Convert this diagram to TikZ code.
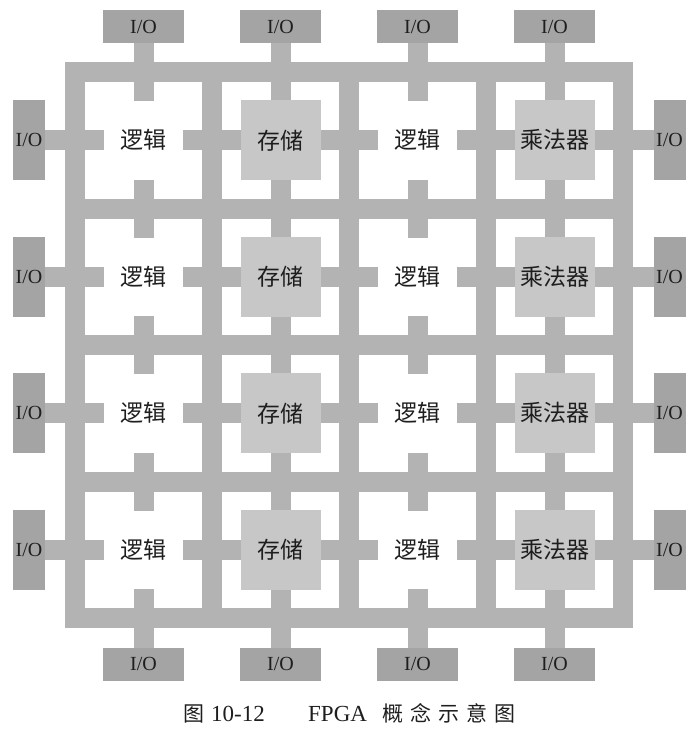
\documentclass[tikz,border=0pt]{standalone}
\usepackage{fontspec}
\setmainfont{Liberation Serif}
\newfontfamily\cjk{Noto Sans CJK SC}
\definecolor{barcol}{HTML}{B3B3B3}
\definecolor{blockcol}{HTML}{C7C7C7}
\definecolor{iocol}{HTML}{A4A4A4}
\definecolor{txtcol}{HTML}{1E1E1E}
\newcommand\capch[1]{\makebox[28pt]{#1}}
\begin{document}
\begin{tikzpicture}[x=1pt,y=-1pt,
  barfill/.style={fill=barcol,draw=none},
  blockbox/.style={fill=blockcol,draw=none,minimum width=80pt,minimum height=80pt,inner sep=0pt},
  labeltext/.style={text=txtcol,font=\cjk\fontsize{23}{23}\selectfont,inner sep=0pt},
  iobox/.style={fill=iocol,draw=none,inner sep=0pt,text=txtcol,font=\fontsize{20}{20}\selectfont},
  iohor/.style={iobox,minimum width=81pt,minimum height=33pt},
  iover/.style={iobox,minimum width=32pt,minimum height=80pt},
  captext/.style={text=txtcol,inner sep=0pt,anchor=base west}]
\useasboundingbox (0,0) rectangle (696,742);
% frame bars
\foreach \k in {0,...,4} {
  \pgfmathsetmacro\X{75+137*\k}
  \fill[barfill] (\X-10,62) rectangle (\X+10,628);
  \pgfmathsetmacro\Y{72+136.5*\k}
  \fill[barfill] (65,\Y-10) rectangle (633,\Y+10);
}
% horizontal stubs through vertical bars
\foreach \k in {0,...,4} {
  \foreach \j in {0,...,3} {
    \pgfmathsetmacro\X{75+137*\k}
    \pgfmathsetmacro\cy{140.25+136.5*\j}
    \pgfmathsetmacro\xa{\k==0 ? 44 : \X-29}
    \pgfmathsetmacro\xb{\k==4 ? 654 : \X+29}
    \fill[barfill] (\xa,\cy-10) rectangle (\xb,\cy+10);
  }
}
% vertical stubs through horizontal bars
\foreach \k in {0,...,4} {
  \foreach \i in {0,...,3} {
    \pgfmathsetmacro\Y{72+136.5*\k}
    \pgfmathsetmacro\cx{143.5+137*\i}
    \pgfmathsetmacro\ya{\k==0 ? 42 : \Y-29}
    \pgfmathsetmacro\yb{\k==4 ? 649 : \Y+29}
    \fill[barfill] (\cx-10,\ya) rectangle (\cx+10,\yb);
  }
}
% cells
\foreach \j in {0,...,3} {
  \pgfmathsetmacro\cy{140.25+136.5*\j}
  \node[labeltext] (logA\j) at (143.5,\cy) {逻辑};
  \node[blockbox] (memB\j) at (280.5,\cy) {};
  \node[labeltext] (memT\j) at (280.5,\cy) {存储};
  \node[labeltext] (logC\j) at (417.5,\cy) {逻辑};
  \node[blockbox] (mulB\j) at (554.5,\cy) {};
  \node[labeltext] (mulT\j) at (554.5,\cy) {乘法器};
  \node[iover] (ioL\j) at (29,\cy) {I/O};
  \node[iover] (ioR\j) at (669.5,\cy) {I/O};
}
\foreach \i in {0,...,3} {
  \pgfmathsetmacro\cx{143.5+137*\i}
  \node[iohor] (ioT\i) at (\cx,26.5) {I/O};
  \node[iohor] (ioB\i) at (\cx,664) {I/O};
}
% caption
\node[captext,font=\cjk\fontsize{21}{21}\selectfont] (cap1) at (180,721) {\capch{图}};
\node[captext,font=\fontsize{23}{23}\selectfont] (cap2) at (211,721) {10-12};
\node[captext,font=\fontsize{23}{23}\selectfont] (cap3) at (308,721) {FPGA};
\node[captext,font=\cjk\fontsize{21}{21}\selectfont] (cap4) at (379,721) {\capch{概}\capch{念}\capch{示}\capch{意}\capch{图}};
\end{tikzpicture}
\end{document}
